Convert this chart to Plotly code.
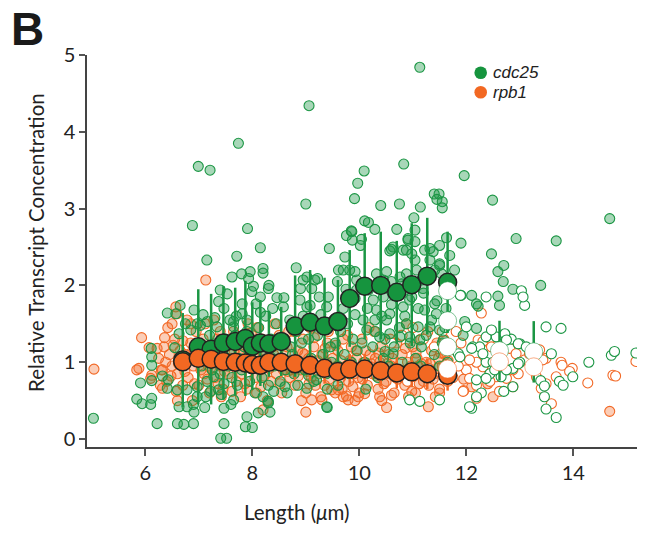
import plotly.graph_objects as go

# ---------------- data ----------------
# binned means
bin_x = [6.70, 6.99, 7.23, 7.46, 7.68, 7.87, 8.00, 8.15, 8.31, 8.54, 8.80,
         9.08, 9.35, 9.60, 9.82, 10.10, 10.40, 10.70, 10.98, 11.27, 11.65]
cdc25_mean = [1.03, 1.20, 1.17, 1.25, 1.27, 1.31, 1.21, 1.25, 1.24, 1.27, 1.47,
              1.52, 1.47, 1.53, 1.83, 1.99, 2.00, 1.91, 2.01, 2.12, 2.04]
cdc25_sd = [0.61, 0.75, 0.72, 0.74, 0.70, 0.75, 0.57, 0.56, 0.43, 0.45, 0.66,
            0.68, 0.63, 0.54, 0.63, 0.69, 0.70, 0.67, 0.80, 0.76, 0.66]
rpb1_mean = [1.005, 1.05, 1.04, 1.01, 1.00, 0.99, 0.97, 0.96, 1.00, 1.00, 0.98,
             0.96, 0.92, 0.88, 0.91, 0.91, 0.89, 0.86, 0.875, 0.85, 0.83]
rpb1_sd = [0.20, 0.20, 0.20, 0.20, 0.20, 0.20, 0.20, 0.20, 0.20, 0.20, 0.20,
           0.20, 0.20, 0.20, 0.20, 0.20, 0.20, 0.20, 0.20, 0.20, 0.20]

# open (white) means
open_cdc25_x = [11.65, 11.65, 11.65, 12.62, 13.26]
open_cdc25_y = [1.93, 1.54, 1.20, 1.15, 1.135]
open_cdc25_sd = [0.0, 0.0, 0.0, 0.39, 0.40]
open_rpb1_x = [11.65, 12.62, 13.26]
open_rpb1_y = [0.91, 1.005, 0.94]

# individual cells: cdc25 (filled)
cdc25_filled = [
    (5.03, 0.27), (5.84, 0.52), (5.94, 0.46), (6.10, 0.45), (6.12, 0.53), (5.91, 0.73), (6.12, 0.76),
    (6.12, 0.96), (6.12, 1.07), (6.11, 1.18), (6.22, 0.20), (6.41, 1.64), (6.57, 1.63), (6.65, 1.74),
    (6.63, 1.37), (6.55, 1.19), (6.32, 0.82), (6.43, 0.77), (6.41, 0.66), (6.60, 0.64), (6.63, 0.42),
    (6.60, 0.20), (6.72, 0.19), (6.90, 0.20), (6.78, 0.42), (6.90, 0.45), (6.91, 0.35), (7.11, 0.41),
    (6.97, 0.68), (6.78, 0.64), (6.91, 1.68), (6.75, 1.50), (6.85, 1.42), (6.97, 1.50), (7.03, 1.48),
    (7.16, 1.53), (7.34, 1.46), (7.40, 1.94), (7.53, 1.89), (7.37, 1.79), (7.47, 1.70), (7.65, 1.53),
    (7.65, 1.46), (7.81, 1.76), (7.81, 1.63), (7.47, 0.72), (7.28, 0.81), (7.37, 0.64), (7.47, 0.40),
    (7.41, 0.01), (7.52, 0.01), (7.13, 0.55), (6.97, 0.55), (7.65, 0.51), (7.47, 0.20), (7.90, 0.29),
    (7.87, 0.16), (8.00, 0.15), (8.11, 0.34), (8.30, 0.47), (8.33, 0.35), (9.40, 0.41),
    (11.13, 4.84), (9.06, 4.34), (7.74, 3.85), (6.99, 3.55), (7.21, 3.50), (9.00, 3.06), (6.88, 2.78),
    (7.91, 2.74), (10.09, 3.49), (9.97, 3.33), (9.91, 3.13), (10.10, 2.84), (9.85, 2.71), (10.83, 3.58),
    (11.96, 3.43), (11.40, 3.19), (11.49, 3.19), (11.45, 3.12), (11.55, 3.09), (11.55, 3.01), (12.49, 3.11),
    (14.68, 2.87), (10.40, 3.04), (10.75, 3.06), (11.14, 3.02), (11.02, 2.88), (10.17, 2.82), (10.29, 2.73),
    (10.70, 2.73),
    (7.15, 2.33), (7.71, 2.38), (8.15, 2.49), (7.62, 2.11), (7.80, 2.15), (7.96, 2.18), (7.93, 2.09),
    (8.02, 1.99), (7.99, 1.92), (8.20, 2.22), (8.20, 2.16), (8.31, 2.00), (8.30, 1.96), (8.46, 1.84),
    (8.59, 1.84), (8.15, 1.85), (8.07, 1.76), (8.82, 2.23), (9.02, 2.11), (9.22, 2.09), (9.17, 2.07),
    (8.95, 2.07), (9.11, 1.96), (8.90, 1.96), (8.89, 1.81), (9.02, 1.72), (9.08, 1.74), (9.39, 1.72),
    (9.44, 2.48), (9.42, 1.85), (9.61, 2.20), (9.59, 2.05), (9.73, 2.37), (9.76, 2.65), (9.86, 2.70),
    (9.87, 2.59), (9.82, 2.20), (9.92, 2.18), (9.95, 2.07), (9.95, 1.94), (9.92, 1.83), (10.04, 2.60),
    (10.02, 2.52), (10.60, 2.47), (10.57, 2.45), (10.91, 2.61), (11.04, 2.57), (10.88, 2.46), (10.98, 2.41),
    (11.04, 2.33), (11.22, 2.46), (11.32, 2.48), (11.38, 2.44), (11.50, 2.52), (11.63, 2.62), (11.90, 2.55),
    (12.47, 2.41), (12.93, 2.61), (13.68, 2.58), (12.70, 2.26), (12.59, 2.18), (12.69, 2.05), (12.87, 1.95),
    (13.39, 2.00), (9.70, 2.20), (10.32, 2.15), (10.51, 2.18), (10.45, 2.07), (10.60, 2.05), (10.76, 2.11),
    (10.79, 2.02), (10.88, 2.15), (10.85, 1.94), (11.07, 2.20), (11.16, 2.07), (11.19, 1.96), (11.35, 2.13),
    (11.41, 2.20), (11.50, 2.26), (11.54, 2.15), (11.90, 1.87), (12.10, 1.87), (12.19, 1.76), (12.22, 1.73),
    (12.59, 1.86), (12.62, 1.74), (11.97, 1.53), (11.94, 1.35), (12.19, 1.44), (11.41, 1.76),
    (10.17, 1.94), (10.26, 1.81), (10.45, 1.85), (10.32, 1.68), (10.57, 1.63), (10.82, 1.72), (10.94, 1.81),
    (11.22, 1.68), (11.44, 1.63), (10.07, 1.55), (10.29, 1.55), (10.51, 1.55), (10.88, 1.50), (11.10, 1.46),
    (11.32, 1.46), (11.50, 1.42), (10.14, 1.42), (10.57, 1.37), (10.38, 1.33), (10.76, 1.33), (10.94, 1.33),
    (11.13, 1.29), (10.48, 1.14), (10.63, 1.11), (11.16, 1.20), (11.57, 1.29), (10.82, 2.46), (10.63, 2.50),
    (10.91, 2.59), (11.04, 2.72), (11.32, 2.33), (11.50, 2.28), (11.69, 2.39), (11.78, 2.20),
    (8.30, 0.49), (9.02, 0.66), (9.20, 0.77), (9.39, 0.42), (8.52, 0.75), (8.61, 0.68), (9.05, 0.83),
    (7.05, 0.95), (7.10, 1.20), (7.20, 1.35), (7.25, 0.90), (7.30, 1.05), (7.35, 1.25), (7.40, 0.85),
    (7.45, 1.10), (7.50, 1.30), (7.15, 0.75), (7.22, 0.62), (7.42, 0.58), (7.08, 1.62), (7.30, 1.58),
    (7.55, 0.95), (7.60, 1.15), (7.62, 0.80), (7.68, 1.35), (7.72, 0.70), (7.75, 1.05), (7.80, 0.90),
    (7.85, 1.20), (7.90, 1.40), (7.95, 0.75), (7.58, 1.55), (7.70, 1.60), (7.90, 1.55), (7.98, 1.05),
    (7.60, 0.45), (8.05, 1.25), (8.10, 0.95), (8.12, 1.45), (8.18, 0.80), (8.22, 1.10), (8.25, 1.60),
    (8.30, 0.70), (8.35, 1.30), (8.40, 0.95), (8.45, 1.50), (8.48, 1.15), (8.05, 0.60), (8.20, 0.55),
    (8.40, 0.62), (8.38, 1.70), (8.15, 1.65), (8.55, 1.05), (8.60, 1.30), (8.62, 0.90), (8.70, 1.55),
    (8.72, 1.20), (8.78, 0.85), (8.82, 1.40), (8.88, 1.00), (8.92, 1.25), (8.95, 1.60), (8.65, 0.60),
    (8.85, 0.70), (8.58, 1.72), (8.75, 1.10), (8.98, 0.90), (9.05, 1.30), (9.10, 1.05), (9.12, 1.50),
    (9.18, 0.95), (9.22, 1.35), (9.28, 1.62), (9.32, 1.10), (9.38, 0.85), (9.42, 1.45), (9.46, 1.20),
    (9.15, 0.75), (9.40, 0.65), (9.25, 1.85), (9.48, 1.00), (9.52, 1.55), (9.55, 1.25), (9.60, 0.95),
    (9.65, 1.40), (9.70, 1.70), (9.72, 1.10), (9.78, 1.50), (9.82, 0.85), (9.88, 1.30), (9.92, 1.62),
    (9.96, 1.15), (9.60, 0.70), (9.85, 1.00), (9.75, 1.95), (10.05, 1.25), (10.10, 1.00), (10.15, 1.70),
    (10.20, 0.90), (10.25, 1.20), (10.30, 1.40), (10.35, 0.80), (10.42, 1.60), (10.45, 1.05), (10.48, 1.30),
    (10.12, 0.65), (10.55, 0.95), (10.60, 1.75), (10.65, 1.20), (10.70, 0.85), (10.75, 1.45), (10.80, 1.00),
    (10.85, 1.60), (10.90, 0.90), (10.95, 1.25), (10.98, 1.85), (11.05, 1.05), (11.10, 1.70), (11.15, 0.95),
    (11.25, 1.35), (11.30, 0.85), (11.35, 1.55), (11.40, 1.10), (11.45, 1.80), (11.50, 0.95), (11.55, 1.25),
    (11.60, 1.45), (11.65, 1.00), (11.62, 1.70), (11.20, 1.90),
]

# individual cells: cdc25 (open)
cdc25_open = [
    (11.89, 1.87), (12.37, 1.85), (13.03, 1.93), (13.09, 1.74), (13.49, 1.46), (13.77, 1.44), (12.00, 1.46),
    (12.84, 1.30), (13.00, 1.24), (13.59, 1.11), (14.29, 1.00), (14.71, 1.09), (14.77, 1.14), (15.17, 1.12),
    (13.39, 0.76), (13.99, 0.81), (13.74, 0.75), (13.81, 0.70), (13.49, 0.39), (13.68, 0.28), (12.10, 0.40),
    (12.87, 0.68), (12.70, 0.62), (12.28, 0.60), (12.19, 0.77), (12.44, 0.85), (12.87, 0.92), (13.00, 1.00),
    (12.65, 0.81), (11.85, 1.11), (12.12, 1.20), (12.25, 1.20), (12.37, 1.33), (12.56, 1.33), (12.72, 1.37),
    (12.75, 1.29), (12.37, 1.00), (12.50, 1.00), (13.06, 1.85), (12.47, 1.42), (12.97, 1.24), (13.12, 1.20),
    (12.10, 1.18), (12.31, 1.11), (11.88, 1.07), (12.75, 0.90), (12.97, 0.98), (12.53, 0.90), (12.37, 0.79),
    (12.19, 0.55), (11.50, 0.51), (12.06, 0.42), (13.46, 0.55), (13.46, 0.69), (10.94, 0.51), (11.13, 0.49),
]

# individual cells: rpb1 (filled)
rpb1_filled = [
    (5.04, 0.91), (5.84, 0.90), (5.88, 0.92), (5.93, 1.32), (6.07, 1.19), (6.22, 1.18), (6.12, 0.83),
    (6.10, 0.79), (6.32, 0.66), (6.57, 1.72), (6.59, 1.63), (6.85, 1.50), (7.13, 2.07), (9.11, 0.51),
    (9.30, 0.51), (9.48, 0.64), (9.61, 0.64), (9.70, 0.55), (9.79, 0.51), (9.98, 0.55), (10.51, 0.41),
    (11.29, 0.42), (10.10, 0.59), (9.76, 0.56), (10.38, 0.55), (10.60, 0.57), (10.98, 0.62), (11.50, 0.65),
    (9.00, 0.35), (8.20, 0.38), (12.50, 0.55), (14.68, 0.36), (12.10, 0.68), (12.40, 0.72), (11.95, 0.78),
    (6.25, 1.05), (6.30, 0.90), (6.35, 1.20), (6.40, 0.75), (6.45, 1.10), (6.50, 0.95), (6.55, 1.30),
    (6.60, 0.85), (6.65, 1.15), (6.70, 0.70), (6.42, 1.45), (6.58, 0.62), (6.68, 1.00), (6.32, 0.90),
    (6.50, 1.50), (6.75, 1.10), (6.80, 0.80), (6.85, 1.25), (6.90, 0.95), (6.95, 1.40), (7.00, 0.70),
    (7.05, 1.05), (7.10, 0.85), (7.15, 1.20), (7.20, 0.60), (6.78, 1.55), (7.12, 1.50), (6.88, 0.50),
    (7.02, 1.15), (7.18, 0.95), (7.25, 1.10), (7.30, 0.80), (7.35, 1.30), (7.40, 0.95), (7.45, 0.65),
    (7.50, 1.20), (7.55, 0.85), (7.60, 1.05), (7.65, 1.40), (7.70, 0.75), (7.28, 1.55), (7.42, 0.55),
    (7.58, 1.25), (7.68, 0.95), (7.32, 1.00), (7.75, 1.15), (7.80, 0.85), (7.85, 1.30), (7.90, 0.65),
    (7.95, 1.00), (8.00, 1.20), (8.05, 0.80), (8.10, 1.45), (8.15, 0.90), (8.20, 1.10), (7.78, 0.55),
    (7.92, 1.50), (8.08, 0.60), (8.18, 1.30), (7.88, 0.95), (8.25, 0.95), (8.30, 1.25), (8.35, 0.75),
    (8.40, 1.10), (8.45, 0.85), (8.50, 1.35), (8.55, 0.60), (8.60, 1.00), (8.65, 1.20), (8.70, 0.80),
    (8.28, 0.50), (8.42, 1.50), (8.58, 0.90), (8.68, 1.40), (8.33, 1.05), (8.75, 1.00), (8.80, 0.70),
    (8.85, 1.15), (8.90, 0.90), (8.95, 1.30), (9.00, 0.60), (9.05, 1.05), (9.10, 0.80), (9.15, 1.20),
    (9.20, 0.95), (8.78, 1.40), (8.92, 0.50), (9.08, 1.45), (9.18, 0.70), (8.98, 1.10), (9.25, 0.85),
    (9.30, 1.10), (9.35, 0.70), (9.40, 1.25), (9.45, 0.90), (9.50, 1.05), (9.55, 0.60), (9.60, 1.15),
    (9.65, 0.80), (9.70, 1.30), (9.28, 0.55), (9.42, 1.40), (9.58, 0.95), (9.68, 0.65), (9.38, 1.00),
    (9.75, 0.95), (9.80, 0.75), (9.85, 1.20), (9.90, 0.85), (9.95, 1.05), (10.00, 0.60), (10.05, 1.30),
    (10.10, 0.90), (10.15, 0.70), (10.20, 1.10), (9.78, 1.35), (9.92, 0.50), (10.08, 1.00), (10.18, 1.45),
    (9.98, 0.80), (10.25, 0.85), (10.30, 1.05), (10.35, 0.65), (10.40, 1.20), (10.45, 0.90), (10.50, 0.75),
    (10.55, 1.10), (10.60, 0.95), (10.65, 0.60), (10.70, 1.25), (10.28, 1.40), (10.42, 0.50), (10.58, 1.30),
    (10.68, 0.80), (10.38, 1.00), (10.75, 0.90), (10.80, 1.10), (10.85, 0.70), (10.90, 1.00), (10.95, 0.80),
    (11.00, 1.20), (11.05, 0.60), (11.10, 0.95), (11.15, 1.30), (11.20, 0.75), (10.78, 1.35), (10.92, 0.55),
    (11.08, 1.05), (11.18, 0.85), (10.88, 1.50), (11.25, 1.00), (11.30, 0.70), (11.35, 1.15), (11.40, 0.85),
    (11.45, 1.25), (11.50, 0.60), (11.55, 0.95), (11.60, 1.10), (11.65, 0.75), (11.28, 1.40), (11.42, 0.55),
    (11.58, 1.30), (11.48, 1.05),
    (6.28, 0.70), (6.38, 1.00), (6.48, 0.82), (6.52, 1.22), (6.62, 0.98), (6.70, 1.28), (6.36, 1.32),
    (6.60, 0.50), (6.74, 0.88), (6.82, 1.05), (6.92, 0.72), (6.98, 1.22), (7.04, 0.90), (7.08, 1.30),
    (7.16, 0.78), (6.86, 1.12), (7.22, 0.92), (7.36, 0.72), (7.38, 1.15), (7.48, 0.88), (7.52, 1.02),
    (7.62, 0.62), (7.66, 1.12), (7.40, 1.40), (7.72, 0.98), (7.82, 1.10), (7.86, 0.72), (7.96, 1.25),
    (8.02, 0.92), (8.12, 1.05), (8.16, 0.68), (7.98, 1.38), (8.22, 0.82), (8.32, 0.92), (8.38, 1.20),
    (8.48, 1.02), (8.52, 0.72), (8.62, 1.12), (8.66, 0.88), (8.46, 1.28), (8.72, 0.90), (8.82, 1.02),
    (8.86, 0.82), (8.94, 1.12), (9.02, 0.88), (9.12, 0.98), (9.16, 1.32), (9.06, 0.72), (9.22, 1.02),
    (9.32, 0.92), (9.36, 1.18), (9.44, 0.78), (9.52, 0.92), (9.56, 1.22), (9.62, 0.88), (9.66, 1.02),
    (9.72, 0.88), (9.82, 1.02), (9.88, 0.68), (9.94, 1.15), (10.02, 0.92), (10.06, 0.78), (10.12, 1.15),
    (10.16, 0.95), (10.22, 0.98), (10.32, 0.82), (10.36, 1.12), (10.46, 0.72), (10.52, 0.98), (10.56, 0.85),
    (10.62, 1.05), (10.66, 0.92), (10.72, 0.78), (10.82, 0.88), (10.86, 1.18), (10.96, 0.95), (11.02, 0.82),
    (11.06, 1.12), (11.12, 0.72), (11.16, 0.98), (11.22, 0.88), (11.32, 0.98), (11.38, 0.78), (11.46, 0.92),
    (11.52, 1.12), (11.62, 0.85), (11.66, 1.02),
]

# individual cells: rpb1 (open)
rpb1_open = [
    (11.95, 0.63), (12.19, 0.53), (13.59, 0.46), (14.27, 0.73), (14.74, 0.83), (14.79, 0.82), (15.17, 1.01),
    (13.77, 1.00), (13.79, 0.96), (13.98, 0.92), (13.93, 0.88), (13.68, 0.81), (13.40, 0.66), (13.49, 0.72),
    (12.28, 1.64), (11.81, 1.40), (13.49, 1.05), (12.22, 1.29), (12.31, 1.27), (12.44, 1.31), (12.47, 1.20),
    (12.75, 1.29), (12.81, 1.18), (12.93, 1.11), (13.00, 1.00), (13.09, 1.03), (13.18, 1.11), (13.37, 1.16),
    (13.43, 1.03), (13.31, 0.81), (12.97, 0.85), (12.87, 0.90), (12.75, 0.79), (12.56, 0.81), (12.44, 0.85),
    (12.31, 0.94), (12.19, 1.00), (12.06, 1.03), (12.00, 0.90), (12.06, 0.79), (12.19, 0.70), (12.44, 0.75),
    (12.62, 0.62), (12.87, 0.68), (11.94, 0.62), (11.80, 1.15), (11.85, 0.95), (11.90, 1.25), (11.75, 0.80),
    (10.60, 1.25), (10.80, 1.35), (11.00, 1.45), (11.20, 1.30), (11.40, 1.20), (11.55, 1.40), (10.90, 0.75),
    (11.30, 0.92),
]

# axis ticks
x_ticks = [6, 8, 10, 12, 14]
y_ticks = [0, 1, 2, 3, 4, 5]

# ---------------- styles ----------------
GREEN = "rgb(27,150,68)"
GREEN_FILL = "rgba(27,150,68,0.38)"
ORANGE = "rgb(242,105,38)"
ORANGE_FILL = "rgba(242,105,38,0.33)"
FONT = "Lato, 'Open Sans', sans-serif"


def xs(pts):
    return [p[0] for p in pts]


def ys(pts):
    return [p[1] for p in pts]


fig = go.Figure()

fig.add_trace(go.Scatter(x=xs(rpb1_filled), y=ys(rpb1_filled), mode="markers",
                         marker=dict(size=10, color=ORANGE_FILL, line=dict(color=ORANGE, width=1.1)),
                         showlegend=False, hoverinfo="skip"))
fig.add_trace(go.Scatter(x=xs(rpb1_open), y=ys(rpb1_open), mode="markers",
                         marker=dict(size=10, color="white", line=dict(color=ORANGE, width=1.1)),
                         showlegend=False, hoverinfo="skip"))
fig.add_trace(go.Scatter(x=xs(cdc25_filled), y=ys(cdc25_filled), mode="markers",
                         marker=dict(size=10, color=GREEN_FILL, line=dict(color=GREEN, width=1.1)),
                         showlegend=False, hoverinfo="skip"))
fig.add_trace(go.Scatter(x=xs(cdc25_open), y=ys(cdc25_open), mode="markers",
                         marker=dict(size=10, color="white", line=dict(color=GREEN, width=1.1)),
                         showlegend=False, hoverinfo="skip"))

# orange error bars (behind green means)
fig.add_trace(go.Scatter(x=bin_x, y=rpb1_mean, mode="markers",
                         marker=dict(size=1, color="rgba(0,0,0,0)"),
                         error_y=dict(type="data", array=rpb1_sd, color=ORANGE, thickness=2.5, width=0),
                         showlegend=False, hoverinfo="skip"))
# green means with error bars
fig.add_trace(go.Scatter(x=bin_x, y=cdc25_mean, mode="markers",
                         marker=dict(size=18, color="rgb(22,148,62)", line=dict(color="#222", width=1.5)),
                         error_y=dict(type="data", array=cdc25_sd, color=GREEN, thickness=2.5, width=0),
                         showlegend=False, hoverinfo="skip"))
# orange means
fig.add_trace(go.Scatter(x=bin_x, y=rpb1_mean, mode="markers",
                         marker=dict(size=18, color="rgb(242,104,34)", line=dict(color="#222", width=1.5)),
                         showlegend=False, hoverinfo="skip"))
# open means
fig.add_trace(go.Scatter(x=open_cdc25_x, y=open_cdc25_y, mode="markers",
                         marker=dict(size=18, color="white", line=dict(color="rgba(27,150,68,0.55)", width=1)),
                         error_y=dict(type="data", array=open_cdc25_sd, color=GREEN, thickness=2.5, width=0),
                         showlegend=False, hoverinfo="skip"))
fig.add_trace(go.Scatter(x=open_rpb1_x, y=open_rpb1_y, mode="markers",
                         marker=dict(size=18, color="white", line=dict(color="rgba(242,105,38,0.55)", width=1)),
                         showlegend=False, hoverinfo="skip"))

# plot area: l=87, r=637, t=55, b=447 px
PW, PH = 550.0, 392.0


def px_x(p):
    return (p - 87) / PW


def px_y(p):
    return (447 - p) / PH


shapes = []
for cy, col in [(72.7, "rgb(22,148,62)"), (92.3, "rgb(242,104,34)")]:
    shapes.append(dict(type="circle", xref="paper", yref="paper",
                       x0=px_x(480.7 - 6.3), x1=px_x(480.7 + 6.3),
                       y0=px_y(cy + 6.3), y1=px_y(cy - 6.3),
                       fillcolor=col, line=dict(width=0)))

annotations = [
    dict(text="<i>cdc25</i>", x=px_x(491), y=px_y(72.7), xref="paper", yref="paper",
         xanchor="left", yanchor="middle", showarrow=False,
         font=dict(family="'Liberation Sans', Arial, sans-serif", size=17, color="#222")),
    dict(text="<i>rpb1</i>", x=px_x(491), y=px_y(92.3), xref="paper", yref="paper",
         xanchor="left", yanchor="middle", showarrow=False,
         font=dict(family="'Liberation Sans', Arial, sans-serif", size=17, color="#222")),
    dict(text="<b>B</b>", x=px_x(9), y=px_y(1), xref="paper", yref="paper",
         xanchor="left", yanchor="top", showarrow=False,
         font=dict(family="'Liberation Sans', Arial, sans-serif", size=46, color="#1a1a1a")),
    dict(text="Length (<i>μ</i>m)", x=px_x(297), y=px_y(512), xref="paper", yref="paper",
         xanchor="center", yanchor="middle", showarrow=False,
         font=dict(family=FONT, size=20.5, color="#222")),
    dict(text="Relative Transcript Concentration", x=px_x(36), y=px_y(243), xref="paper", yref="paper",
         xanchor="center", yanchor="middle", showarrow=False, textangle=-90,
         font=dict(family=FONT, size=20.5, color="#222")),
]

fig.update_layout(
    width=649, height=533,
    margin=dict(l=87, r=12, t=55, b=86),
    paper_bgcolor="white", plot_bgcolor="white",
    shapes=shapes, annotations=annotations,
    font=dict(family=FONT, size=18, color="#222"),
    xaxis=dict(range=[4.91, 15.19], tickvals=x_ticks, ticktext=[str(t) for t in x_ticks],
               showline=True, linecolor="#444", linewidth=1.5, ticks="outside", ticklen=7,
               tickwidth=1.5, tickcolor="#555", showgrid=False, zeroline=False,
               tickfont=dict(family=FONT, size=20, color="#222")),
    yaxis=dict(range=[-0.104, 5.0], tickvals=y_ticks, ticktext=[str(t) for t in y_ticks],
               showline=True, linecolor="#444", linewidth=1.5, ticks="outside", ticklen=6,
               tickwidth=1.5, tickcolor="#555", showgrid=False, zeroline=False,
               tickfont=dict(family=FONT, size=20, color="#222")),
)

fig.write_html("out.html")
